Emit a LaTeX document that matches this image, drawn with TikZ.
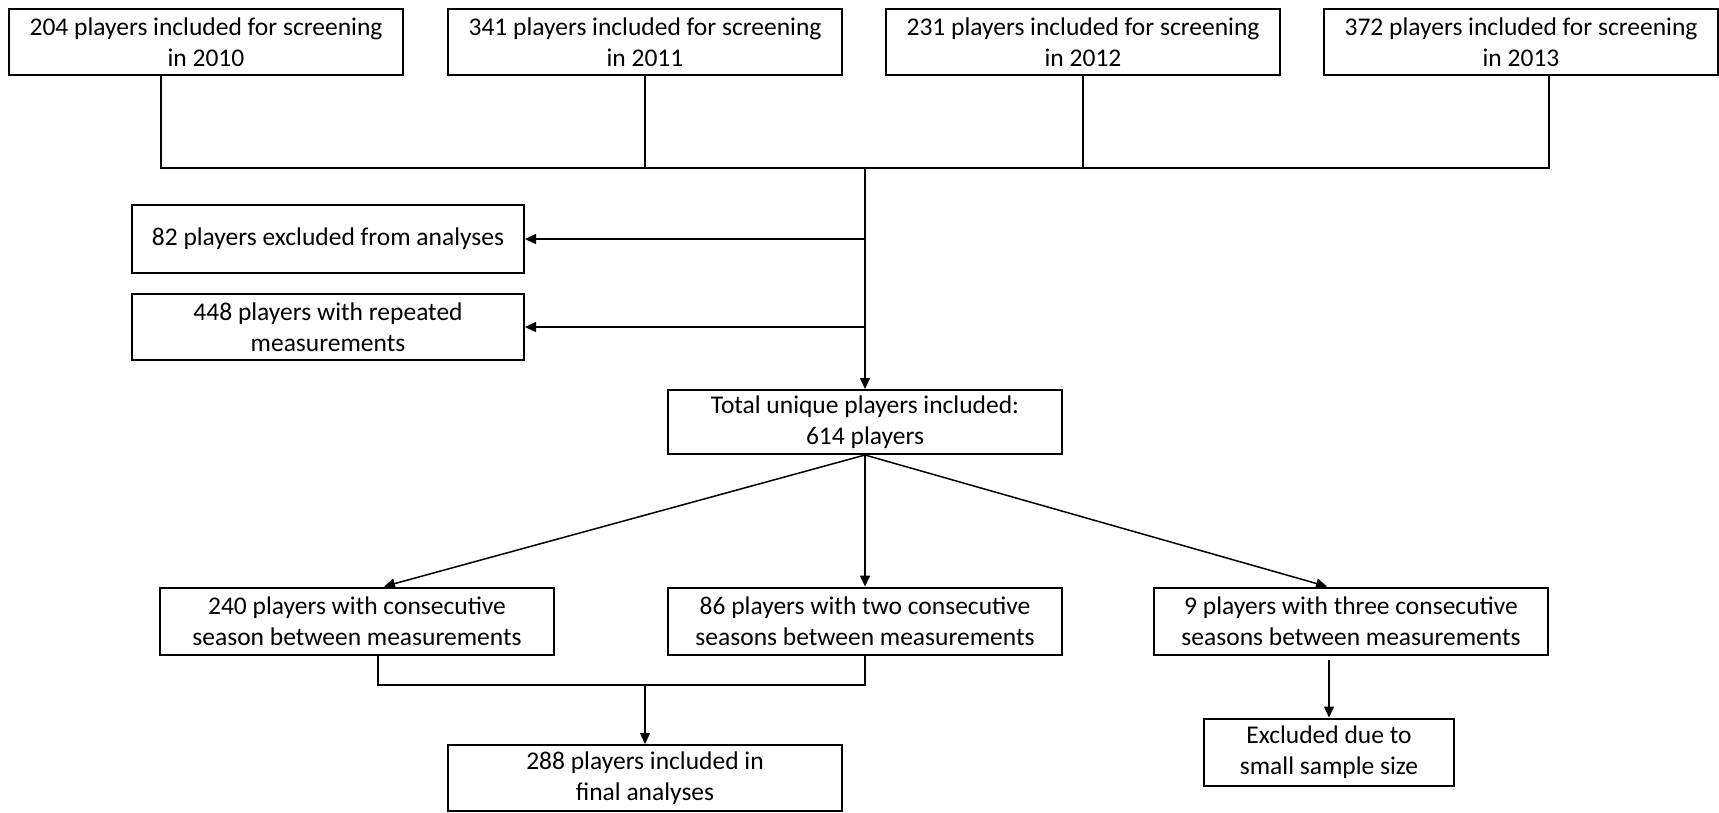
\documentclass[tikz,border=0pt]{standalone}
\usepackage{fontspec}
\setmainfont{Carlito}
\usetikzlibrary{arrows.meta}
\begin{document}
\begin{tikzpicture}[x=1pt, y=-1pt,
  box/.style={draw, line width=2pt, inner sep=0pt, minimum width=394pt,
    minimum height=66pt, align=center, font=\fontsize{25.5}{31}\selectfont},
  link/.style={line width=1.5pt},
  arr/.style={link, -{Triangle[length=11pt,width=10pt]}}]
  \useasboundingbox (0,0) rectangle (1719,812);
  \node[box] (s2010) at (206,42) {204 players included for screening\\in 2010};
  \node[box] (s2011) at (645,42) {341 players included for screening\\in 2011};
  \node[box] (s2012) at (1083,42) {231 players included for screening\\in 2012};
  \node[box] (s2013) at (1521,42) {372 players included for screening\\in 2013};
  \node[box, minimum width=392pt, minimum height=68pt] (excl) at (328,239) {82 players excluded from analyses};
  \node[box, minimum width=392pt] (rep) at (328,327) {448 players with repeated\\measurements};
  \node[box, minimum height=64pt] (total) at (865,422) {Total unique players included:\\614 players};
  \node[box, minimum height=67pt] (one) at (357,621) {240 players with consecutive\\season between measurements};
  \node[box, minimum height=67pt] (two) at (865,621) {86 players with two consecutive\\seasons between measurements};
  \node[box, minimum height=67pt] (three) at (1351,621) {9 players with three consecutive\\seasons between measurements};
  \node[box] (final) at (645,778) {288 players included in\\final analyses};
  \node[box, minimum width=250pt, minimum height=67pt] (small) at (1329,752) {Excluded due to\\small sample size};
  \coordinate (jl) at (161,168);
  \coordinate (jm) at (865,168);
  \coordinate (jr) at (1549,168);
  \coordinate (jb) at (645,685);
  \draw[link] (s2010.south -| jl) -- (jl) -- (jr) -- (s2013.south -| jr);
  \draw[link] (s2011.south) -- (s2011.south |- jl);
  \draw[link] (s2012.south) -- (s2012.south |- jl);
  \draw[arr] (jm) -- (total.north);
  \draw[arr] (jm |- excl) -- (excl.east);
  \draw[arr] (jm |- rep) -- (rep.east);
  \draw[arr] (total.south) -- ([xshift=27pt]one.north);
  \draw[arr] (total.south) -- (two.north);
  \draw[arr] (total.south) -- ([xshift=-24pt]three.north);
  \draw[link] ([xshift=21pt]one.south) -- ([xshift=21pt]one.south |- jb) -- (two.south |- jb) -- (two.south);
  \draw[arr] (jb) -- (final.north);
  \draw[arr, shorten <=4pt] (three.south -| small.north) -- (small.north);
\end{tikzpicture}
\end{document}
